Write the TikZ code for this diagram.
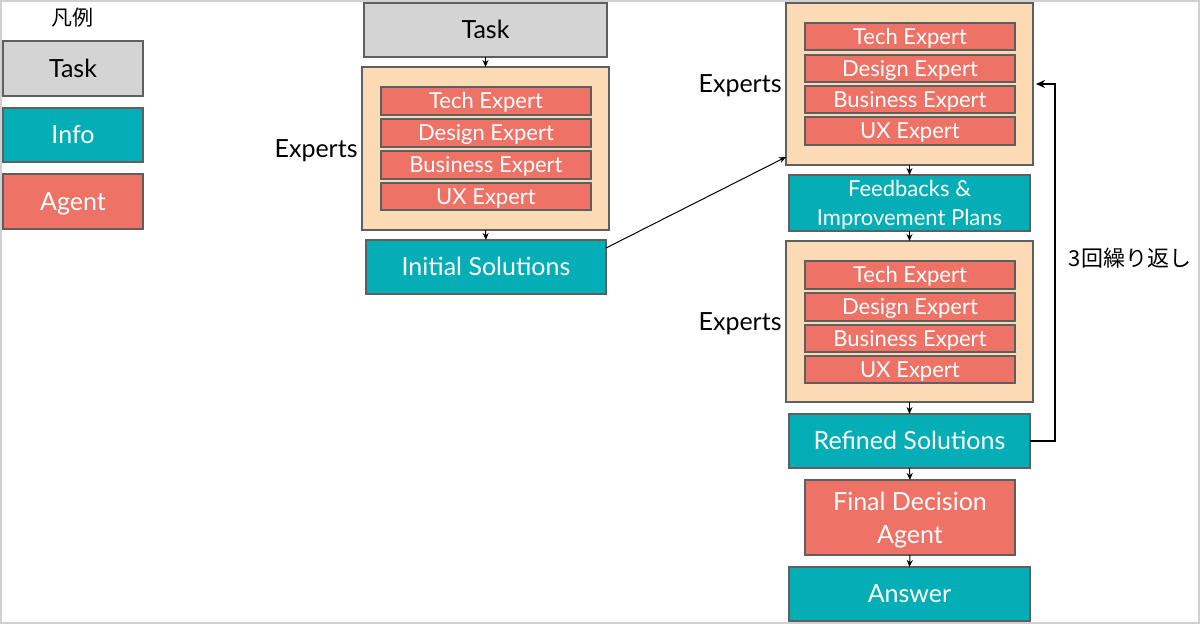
\documentclass[tikz,border=0pt]{standalone}
\usepackage{fontspec}
\setmainfont{Lato}
\newfontfamily\jpfont{Noto Sans CJK JP}
\usetikzlibrary{arrows.meta,calc}
\definecolor{taskgray}{HTML}{D4D4D4}
\definecolor{infoteal}{HTML}{03AEB6}
\definecolor{agentred}{HTML}{EE7266}
\definecolor{peach}{HTML}{FCDAB6}
\definecolor{edgegray}{HTML}{5F5F5F}
\newcommand\mkbox[7]{\node[#6, minimum width={(#4-#2)*0.5pt}, minimum height={(#5-#3)*0.5pt}] (#1) at ({(#2+#4)/2},{(#3+#5)/2}) {#7};}
\tikzset{
  base/.style={draw=edgegray, line width=0.8pt, inner sep=0pt, align=center, outer sep=0pt},
  capline/.style={text height=8.96pt, text depth=0pt},
  smallcap/.style={text height=7.9pt, text depth=0pt},
  taskbox/.style={base, fill=taskgray, text=black, font=\fontsize{12.5}{15}\selectfont},
  infobox/.style={base, fill=infoteal, text=white, font=\fontsize{12.5}{15}\selectfont},
  agentbox/.style={base, fill=agentred, text=white, font=\fontsize{12.5}{16.5}\selectfont},
  expert/.style={base, smallcap, fill=agentred, text=white, font=\fontsize{11}{13}\selectfont},
  group/.style={base, fill=peach},
  lbl/.style={capline, font=\fontsize{12.5}{15}\selectfont, inner sep=2pt},
  arr/.style={-{Stealth[length=3.5pt,width=3pt]}, line width=0.5pt, black},
  looparr/.style={-{Stealth[length=4.5pt,width=4pt]}, line width=1.1pt, black},
}
\begin{document}
\begin{tikzpicture}[x=0.5pt, y=-0.5pt]
\useasboundingbox (0,0) rectangle (1200,624);
\draw[black!18, line width=1pt] (1,1) rectangle (1199,623);
% legend
\node[font=\jpfont\fontsize{10.5}{12}\selectfont] (lg) at (72,18) {凡例};
\mkbox{lt}{3}{41}{143}{96}{taskbox,capline}{Task}
\mkbox{li}{3}{108}{143}{162}{infobox,capline}{Info}
\mkbox{la}{3}{174}{143}{229}{agentbox,capline}{Agent}
% middle column
\mkbox{task}{364}{3}{607}{57}{taskbox,capline}{Task}
\mkbox{ex1}{362}{67}{609}{230}{group}{}
\mkbox{t1}{381}{87}{591}{115}{expert}{Tech Expert}
\mkbox{d1}{381}{119}{591}{147}{expert}{Design Expert}
\mkbox{b1}{381}{151}{591}{179}{expert}{Business Expert}
\mkbox{u1}{381}{183}{591}{210}{expert}{UX Expert}
\node[lbl, left] (el1) at (ex1.west) {Experts};
\mkbox{init}{366}{240}{606}{294}{infobox,capline}{Initial Solutions}
% right column
\mkbox{ex2}{786}{3}{1033}{165}{group}{}
\mkbox{t2}{805}{23}{1015}{50}{expert}{Tech Expert}
\mkbox{d2}{805}{55}{1015}{82}{expert}{Design Expert}
\mkbox{b2}{805}{86}{1015}{113}{expert}{Business Expert}
\mkbox{u2}{805}{117}{1015}{145}{expert}{UX Expert}
\node[lbl, left] (el2) at (ex2.west) {Experts};
\mkbox{fb}{789}{175}{1030}{231}{infobox,text depth=0pt,font=\fontsize{11}{14.5}\selectfont}{Feedbacks \&\\Improvement Plans}
\mkbox{ex3}{786}{241}{1033}{402}{group}{}
\mkbox{t3}{805}{261}{1015}{289}{expert}{Tech Expert}
\mkbox{d3}{805}{293}{1015}{321}{expert}{Design Expert}
\mkbox{b3}{805}{325}{1015}{352}{expert}{Business Expert}
\mkbox{u3}{805}{356}{1015}{383}{expert}{UX Expert}
\node[lbl, left] (el3) at (ex3.west) {Experts};
\mkbox{ref}{789}{414}{1030}{468}{infobox,capline}{Refined Solutions}
\mkbox{fin}{805}{480}{1015}{555}{agentbox,text depth=0pt}{Final Decision\\Agent}
\mkbox{ans}{789}{567}{1030}{621}{infobox,capline}{Answer}
\node[font=\jpfont\fontsize{11}{13}\selectfont] (rep) at (1130,258) {3回繰り返し};
% connectors
\draw[arr] (task.south) -- (ex1.north);
\draw[arr] (ex1.south) -- (init.north);
\draw[arr] ($(init.north east)+(0,8)$) -- ($(ex2.south west)+(0,-8)$);
\draw[arr] (ex2.south) -- (fb.north);
\draw[arr] (fb.south) -- (ex3.north);
\draw[arr] (ex3.south) -- (ref.north);
\draw[arr] (ref.south) -- (fin.north);
\draw[arr] (fin.south) -- (ans.north);
\draw[looparr] (ref.east) -- ++(25,0) coordinate (lp) |- ($(ex2.east)+(3,0)$);
\end{tikzpicture}
\end{document}
